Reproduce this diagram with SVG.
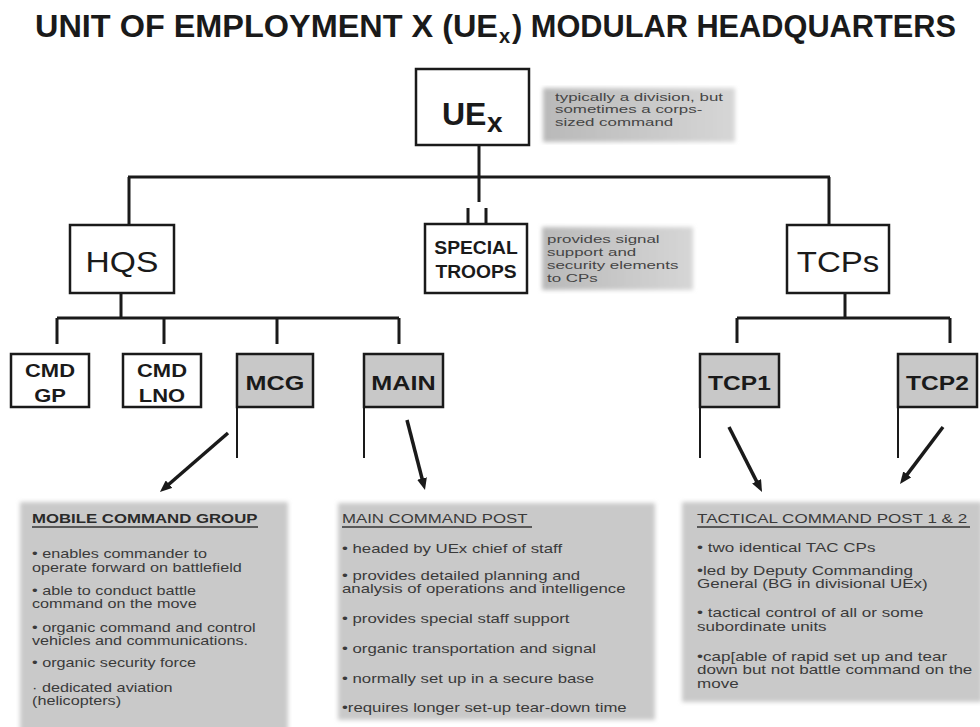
<svg xmlns="http://www.w3.org/2000/svg" width="980" height="727" viewBox="0 0 980 727">
<defs>
<style>
.box{fill:#fff;stroke:#1a1a1a;stroke-width:2.5}
.gbox{fill:#c8c8c8;stroke:#1a1a1a;stroke-width:2.5}
.ln{stroke:#1a1a1a;stroke-width:3;fill:none}
.fl{stroke:#1a1a1a;stroke-width:2;fill:none}
.arr{stroke:#1a1a1a;stroke-width:3.5;fill:none;marker-end:url(#ah)}
.ul{stroke:#333;stroke-width:1.3}
.lbl{font-family:"Liberation Sans",Arial,sans-serif;font-weight:bold;fill:#1a1a1a;text-anchor:middle}
.big{font-family:"Liberation Sans",Arial,sans-serif;fill:#1a1a1a;text-anchor:middle}
.ttl{font-family:"Liberation Sans",Arial,sans-serif;font-weight:bold;fill:#1a1a1a;font-size:31px}
.d{font-family:"Liberation Sans",Arial,sans-serif;font-size:12px;fill:#3a3a3a}
.db{font-family:"Liberation Sans",Arial,sans-serif;font-size:12px;fill:#2a2a2a;font-weight:bold}
.n{font-family:"Liberation Sans",Arial,sans-serif;font-size:11.5px;fill:#454545}
.desc{fill:#c9c9c9;filter:url(#soft)}
.note{fill:url(#ng);filter:url(#soft)}
</style>
<marker id="ah" viewBox="0 0 12 10" refX="4" refY="5" markerWidth="12" markerHeight="10" markerUnits="userSpaceOnUse" orient="auto"><path d="M0,0 L12,5 L0,10 z" fill="#1a1a1a"/></marker>
<filter id="soft" x="-5%" y="-5%" width="110%" height="110%"><feGaussianBlur stdDeviation="2"/></filter>
<linearGradient id="ng" x1="0" x2="1" y1="0" y2="0"><stop offset="0" stop-color="#b9b9b9"/><stop offset="1" stop-color="#d6d6d6"/></linearGradient>
</defs>
<rect width="980" height="727" fill="#fff"/>

<g id="title">
<text class="ttl" x="35" y="37" textLength="463" lengthAdjust="spacingAndGlyphs">UNIT OF EMPLOYMENT X (UE</text>
<text class="ttl" x="499" y="43" style="font-size:20px">x</text>
<text class="ttl" x="512" y="37" textLength="444" lengthAdjust="spacingAndGlyphs">) MODULAR HEADQUARTERS</text>
</g>

<g id="connectors">
<path class="ln" d="M479,145 V202 M128,177 H830 M129,177 V225 M829,177 V225 M468,208 V224 M486,208 V224"/>
<path class="ln" d="M121,293 V318 M57,318 H399 M57,318 V344 M164,318 V344 M277,318 V344 M399,318 V344"/>
<path class="ln" d="M845,293 V318 M737,318 H950 M737,318 V343 M950,318 V343"/>
<path class="fl" d="M237,407 V458 M364,407 V458 M700,407 V458 M898,407 V458"/>
<line class="arr" x1="228" y1="433" x2="166" y2="486.8"/>
<line class="arr" x1="407" y1="420" x2="423" y2="482.3"/>
<line class="arr" x1="729" y1="427" x2="758.4" y2="484.9"/>
<line class="arr" x1="943" y1="427" x2="904.8" y2="477.6"/>
</g>

<g id="uex">
<rect class="box" x="416" y="69" width="113" height="76"/>
<text x="442" y="125" style="font-family:'Liberation Sans',Arial,sans-serif;font-weight:bold;font-size:32px;fill:#1a1a1a">UE</text>
<text x="487" y="132" style="font-family:'Liberation Sans',Arial,sans-serif;font-weight:bold;font-size:28px;fill:#1a1a1a">x</text>
</g>
<g id="uex-note">
<rect class="note" x="543" y="88" width="192" height="54"/>
<g transform="translate(555,0) scale(1.47,1)">
<text class="n" x="0" y="101">typically a division, but</text>
<text class="n" x="0" y="113.5">sometimes a corps-</text>
<text class="n" x="0" y="126">sized command</text>
</g>
</g>

<g id="hqs">
<rect class="box" x="70" y="225" width="104" height="68"/>
<text class="big" transform="translate(122,272) scale(1.12,1)" x="0" y="0" style="font-size:30px">HQS</text>
</g>
<g id="special-troops">
<rect class="box" x="425" y="224" width="102" height="69"/>
<g transform="translate(476,0) scale(1.1,1)">
<text class="lbl" x="0" y="254" style="font-size:17.5px">SPECIAL</text>
<text class="lbl" x="0" y="278" style="font-size:17.5px">TROOPS</text>
</g>
</g>
<g id="special-note">
<rect class="note" x="542" y="227" width="151" height="63"/>
<g transform="translate(547,0) scale(1.47,1)">
<text class="n" x="0" y="243">provides signal</text>
<text class="n" x="0" y="256">support and</text>
<text class="n" x="0" y="269">security elements</text>
<text class="n" x="0" y="282">to CPs</text>
</g>
</g>
<g id="tcps">
<rect class="box" x="787" y="225" width="102" height="68"/>
<text class="big" transform="translate(838,272) scale(1.1,1)" x="0" y="0" style="font-size:30px">TCPs</text>
</g>

<g id="cmd-gp">
<rect class="box" x="11" y="354" width="78" height="53"/>
<g transform="translate(50,0) scale(1.22,1)">
<text class="lbl" x="0" y="377" style="font-size:18px">CMD</text>
<text class="lbl" x="0" y="402" style="font-size:18px">GP</text>
</g>
</g>
<g id="cmd-lno">
<rect class="box" x="123" y="354" width="78" height="53"/>
<g transform="translate(162,0) scale(1.22,1)">
<text class="lbl" x="0" y="377" style="font-size:18px">CMD</text>
<text class="lbl" x="0" y="402" style="font-size:18px">LNO</text>
</g>
</g>
<g id="mcg">
<rect class="gbox" x="237" y="354" width="76" height="53"/>
<text class="lbl" transform="translate(275,390) scale(1.2,1)" x="0" y="0" style="font-size:21px">MCG</text>
</g>
<g id="main">
<rect class="gbox" x="364" y="354" width="79" height="53"/>
<text class="lbl" transform="translate(403.5,390) scale(1.2,1)" x="0" y="0" style="font-size:21px">MAIN</text>
</g>
<g id="tcp1">
<rect class="gbox" x="700" y="354" width="79" height="53"/>
<text class="lbl" transform="translate(739.5,390) scale(1.17,1)" x="0" y="0" style="font-size:21px">TCP1</text>
</g>
<g id="tcp2">
<rect class="gbox" x="898" y="354" width="79" height="53"/>
<text class="lbl" transform="translate(937.5,390) scale(1.17,1)" x="0" y="0" style="font-size:21px">TCP2</text>
</g>

<g id="mcg-desc">
<rect class="desc" x="20" y="502" width="268" height="230"/>
<line class="ul" x1="32" y1="527" x2="258" y2="527"/>
<g transform="translate(32,0) scale(1.35,1)">
<text class="db" x="0" y="523" textLength="167" lengthAdjust="spacingAndGlyphs">MOBILE COMMAND GROUP</text>
<text class="d" x="0" y="558">• enables commander to</text>
<text class="d" x="0" y="572">operate forward on battlefield</text>
<text class="d" x="0" y="595">• able to conduct battle</text>
<text class="d" x="0" y="608.5">command on the move</text>
<text class="d" x="0" y="632">• organic command and control</text>
<text class="d" x="0" y="645.5">vehicles and communications.</text>
<text class="d" x="0" y="667">• organic security force</text>
<text class="d" x="0" y="692">· dedicated aviation</text>
<text class="d" x="0" y="705.5">(helicopters)</text>
</g>
</g>

<g id="main-desc">
<rect class="desc" x="338" y="503" width="317" height="217"/>
<line class="ul" x1="342" y1="527" x2="532" y2="527"/>
<g transform="translate(342,0) scale(1.4,1)">
<text class="d" x="0" y="523">MAIN COMMAND POST</text>
<text class="d" x="0" y="553">• headed by UEx chief of staff</text>
<text class="d" x="0" y="580">• provides detailed planning and</text>
<text class="d" x="0" y="593.5">analysis of operations and intelligence</text>
<text class="d" x="0" y="623">• provides special staff support</text>
<text class="d" x="0" y="653">• organic transportation and signal</text>
<text class="d" x="0" y="683">• normally set up in a secure base</text>
<text class="d" x="0" y="712">•requires longer set-up tear-down time</text>
</g>
</g>

<g id="tcp-desc">
<rect class="desc" x="682" y="502" width="300" height="200"/>
<line class="ul" x1="697" y1="527" x2="970" y2="527"/>
<g transform="translate(697,0) scale(1.42,1)">
<text class="d" x="0" y="523">TACTICAL COMMAND POST 1 &amp; 2</text>
<text class="d" x="0" y="552">• two identical TAC CPs</text>
<text class="d" x="0" y="575">•led by Deputy Commanding</text>
<text class="d" x="0" y="588.5">General (BG in divisional UEx)</text>
<text class="d" x="0" y="617">• tactical control of all or some</text>
<text class="d" x="0" y="631">subordinate units</text>
<text class="d" x="0" y="661">•cap[able of rapid set up and tear</text>
<text class="d" x="0" y="674.5">down but not battle command on the</text>
<text class="d" x="0" y="688">move</text>
</g>
</g>
</svg>
